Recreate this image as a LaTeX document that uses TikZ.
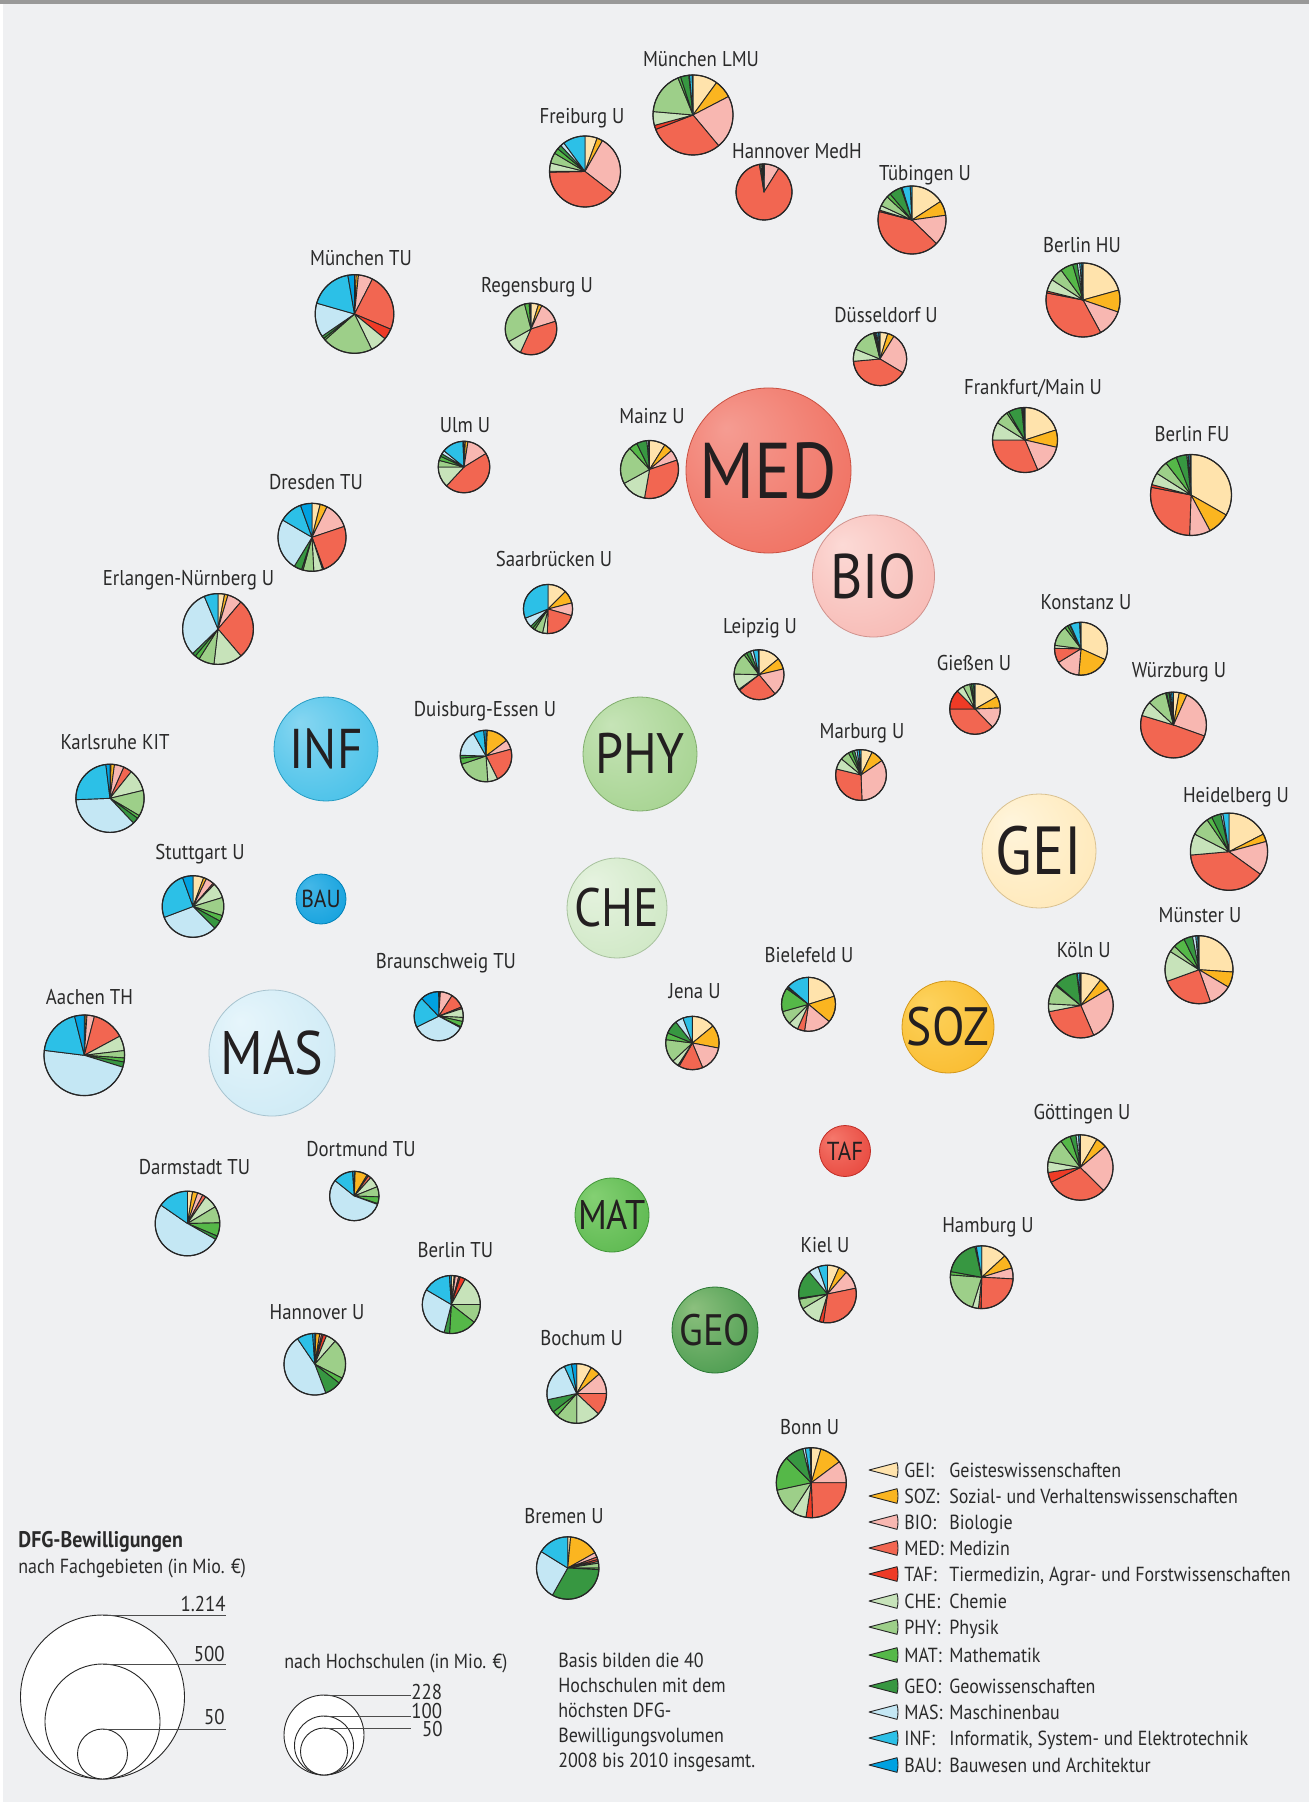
\documentclass[tikz,border=0pt]{standalone}
\usepackage{fontspec}
\setmainfont{PT Sans}[FakeStretch=0.88]
\definecolor{bg}{HTML}{EFF0F2}
\definecolor{txt}{HTML}{2A2A2A}
\definecolor{bubtxt}{HTML}{231F20}
\definecolor{c1}{HTML}{FFE3AC}
\definecolor{c2}{HTML}{FBB520}
\definecolor{c3}{HTML}{F8B7B1}
\definecolor{c4}{HTML}{F26651}
\definecolor{c5}{HTML}{EE3B26}
\definecolor{c6}{HTML}{C7E3BA}
\definecolor{c7}{HTML}{9DCF89}
\definecolor{c8}{HTML}{55B848}
\definecolor{c9}{HTML}{379741}
\definecolor{c10}{HTML}{C4E7F4}
\definecolor{c11}{HTML}{2CC0E7}
\definecolor{c12}{HTML}{00A1E1}
\definecolor{medin}{HTML}{F59C92}\definecolor{medout}{HTML}{EE5E4C}
\definecolor{bioin}{HTML}{FCDAD6}\definecolor{bioout}{HTML}{F5ACA6}
\definecolor{phyin}{HTML}{C6E4B7}\definecolor{phyout}{HTML}{98CC80}
\definecolor{infin}{HTML}{86D6F1}\definecolor{infout}{HTML}{2DB8E5}
\definecolor{chein}{HTML}{E6F3E0}\definecolor{cheout}{HTML}{C5E3B9}
\definecolor{bauin}{HTML}{45B8E8}\definecolor{bauout}{HTML}{0098D9}
\definecolor{geiin}{HTML}{FFF5DC}\definecolor{geiout}{HTML}{FFE3A9}
\definecolor{sozin}{HTML}{FDD35E}\definecolor{sozout}{HTML}{F8B21C}
\definecolor{masin}{HTML}{E6F5FB}\definecolor{masout}{HTML}{C4E6F3}
\definecolor{tafin}{HTML}{F5786C}\definecolor{tafout}{HTML}{E2342B}
\definecolor{matin}{HTML}{84D073}\definecolor{matout}{HTML}{4DAF42}
\definecolor{geoin}{HTML}{8CC07E}\definecolor{geoout}{HTML}{2F8C3B}
\colorlet{bubin}{white}\colorlet{bubout}{gray}
\pgfdeclareradialshading[bubin,bubout]{bubble}{\pgfpoint{-13bp}{13bp}}{color(0bp)=(bubin); color(30bp)=(bubin!40!bubout); color(50bp)=(bubout)}
\tikzset{
  lab/.style={font=\fontsize{10.7}{12}\selectfont, text=txt, inner sep=0pt, anchor=mid, yshift=-1.2pt},
  leg/.style={font=\fontsize{10.2}{12}\selectfont, text=txt, inner sep=0pt, anchor=mid west, yshift=-1.2pt},
  bubtext/.style={text=bubtxt, inner sep=0pt, anchor=base},
  pieline/.style={draw=black!85, line width=0.45pt, line join=round},
  wedge/.style={draw=black!85, line width=0.45pt, line join=round},
  legcirc/.style={draw=black!85, fill=white, line width=0.45pt},
  legline/.style={draw=black!70, line width=0.5pt},
}
\newcommand\drawpie[4]{%
  \coordinate (#1) at (#2);
  \gdef\ptot{0}%
  \foreach \v in {#4}{\pgfmathsetmacro\ptt{\ptot+\v}\xdef\ptot{\ptt}}%
  \gdef\pcum{0}%
  \foreach \v [count=\i] in {#4}{%
    \pgfmathsetmacro\pw{(\v/\ptot)*360}%
    \ifdim\pw pt>0.05pt
      \pgfmathsetmacro\pa{-90+\pcum}%
      \pgfmathsetmacro\pb{-90+\pcum+\pw}%
      \filldraw[pieline, fill=c\i] (#1) -- ++(\pa:#3) arc[start angle=\pa, end angle=\pb, radius=#3] -- cycle;
    \fi
    \pgfmathsetmacro\pn{\pcum+\pw}%
    \xdef\pcum{\pn}%
  }%
  \draw[draw=black!85, line width=0.6pt] (#1) circle[radius=#3];
}
\newcommand\bubble[7]{%
  \begin{scope}
    \colorlet{bubin}{#4}\colorlet{bubout}{#5}
    \shade[shading=bubble, draw=#5!85!black, line width=0.4pt] (#2) circle[radius=#3];
  \end{scope}
  \node[bubtext, font=\fontsize{#7}{#7}\selectfont, yshift={-0.35*#7pt}] (#1) at (#2) {#6};
}
\begin{document}
\begin{tikzpicture}[x=0.5pt,y=-0.5pt]
\path[use as bounding box] (0,0) rectangle (1309,1802);
\fill[bg] (0,0) rectangle (1309,1802);
\fill[white] (0,0) rectangle (3,1802);
\fill[black!40] (0,0) rectangle (1309,4);

% ---------- bubbles ----------
\bubble{med}{768.5,470.5}{82.5}{medin}{medout}{MED}{39.5}
\bubble{bio}{873.5,576}{61}{bioin}{bioout}{BIO}{31.5}
\bubble{phy}{640,754}{57}{phyin}{phyout}{PHY}{28.5}
\bubble{inf}{326,749}{52}{infin}{infout}{INF}{28}
\bubble{che}{617,908}{50}{chein}{cheout}{CHE}{27}
\bubble{bau}{321,899}{25}{bauin}{bauout}{BAU}{12.3}
\bubble{gei}{1039,851}{57}{geiin}{geiout}{GEI}{34}
\bubble{soz}{948,1027}{46}{sozin}{sozout}{SOZ}{27}
\bubble{mas}{272,1053}{63}{masin}{masout}{MAS}{30.7}
\bubble{taf}{845,1151}{25.5}{tafin}{tafout}{TAF}{13}
\bubble{mat}{612,1215}{37}{matin}{matout}{MAT}{20.7}
\bubble{geo}{715,1330}{43}{geoin}{geoout}{GEO}{22}

% ---------- pies ----------
\drawpie{p1}{693,115}{40}{36,26.5,77.5,108.7,6,20,63,4,12,1,4,1}
\drawpie{p2}{585,171.5}{35.5}{20,9.5,98,141,1.5,13.5,17,9,7,6.5,36.5,0}
\drawpie{p3}{764,192}{28}{0.5,0.5,31,318,0,3,3,0,2,0,1.5,0}
\drawpie{p4}{912,220}{34}{57,25,52,150.5,2.5,8,18,7,21,2,14,3}
\drawpie{p5}{1083,300}{37}{74.4,34.6,42.6,129.4,3,19.2,20.6,20,7.2,4,3,2}
\drawpie{p6}{880,359}{26.7}{17,14.5,89.5,144,0,27,54,2,2,3,4,3}
\drawpie{p7}{1025,440}{32.5}{72,31,54,113,0,32,24,4,24,2,2,2}
\drawpie{p8}{1191,495}{40.5}{119.6,32.4,30,99,4,17.5,19.5,16.7,15.3,2,2.5,1.5}
\drawpie{p9}{354.5,314}{39.3}{2.4,3.4,21.4,85.6,16.4,24.8,74.6,3,4,50.4,64.2,9.8}
\drawpie{p10}{531,329}{25.8}{17,8,47.5,132,0,36,105,10.5,2,0,0,2}
\drawpie{p11}{464,467}{25.8}{3,6,49.5,164.3,0,47.2,15,9.6,6.4,8,48.7,2.3}
\drawpie{p12}{649.5,469.5}{29}{32,17.3,21.8,118.9,0,51.3,75.7,17,20.8,3.2,2,0}
\drawpie{p13}{312,537.3}{34}{14,12.3,45.1,88.4,2.2,15,18.4,2.6,13.5,89,39.8,19.7}
\drawpie{p14}{218,629}{35.4}{10.8,5.6,23.8,99.4,0,47,25.7,7.8,5.8,111.3,22.8,0}
\drawpie{p15}{548,609}{24.6}{45,30.6,30.1,75.8,0,11.5,19.9,5.6,6.5,23,112,0}
\drawpie{p16}{759,674.7}{25}{50.7,26,63.5,91.4,2.4,37.6,51.8,6.6,9.8,7,11.8,1.4}
\drawpie{p17}{1081,648.7}{26.5}{114.3,70.7,53.7,32,0,6.7,45.4,6.8,5.1,1.3,21,3}
\drawpie{p18}{975,709}{25.3}{60.3,27.3,48.4,134,45.6,16.8,15.6,4,5,0,3,0}
\drawpie{p19}{1173.5,725}{32.9}{10,14,85.6,177.2,0,26.1,33.4,1.7,4,2,3,3}
\drawpie{p20}{861,775}{25.4}{26,29.5,122.4,106,0,25.8,20.8,8.6,6.5,5.4,5.2,4}
\drawpie{p21}{110,798.3}{34.1}{1.7,5.9,16.4,14.7,0,37.8,44.1,5.3,10.7,131.1,85.3,7}
\drawpie{p22}{486,756}{25.8}{3,49.8,21.9,78.7,0,22.6,75.3,14,6.3,59.1,24.3,5}
\drawpie{p23}{1229,851.7}{38.6}{62.8,11.8,51.2,139.2,0,32.2,28.3,8,14.3,3,9.2,0}
\drawpie{p24}{193,906.5}{30.8}{20.3,5.5,15.1,3.1,0,29,34.3,11.2,16.5,114.3,90.9,19.8}
\drawpie{p25}{1199,969.7}{34}{93.9,26.8,39.7,89.6,0,52.4,11.4,20.1,15.1,5.6,3.4,2}
\drawpie{p26}{1080.8,1005.5}{32.4}{37.8,21.6,97.2,102.4,0,14,35.6,2.4,41.8,1.2,4,2}
\drawpie{p27}{438.7,1016.2}{24.6}{2,2,29,35,4,21,9.5,13,2.5,125.8,72.4,43.8}
\drawpie{p28}{808.5,1004.3}{27}{72.6,57.4,58.5,15.5,0,21,29.3,51.5,3.2,2,49,0}
\drawpie{p29}{692.4,1043}{26.7}{50.4,50.6,56.4,52.4,3.2,14.2,50.1,14.7,29.7,17.5,20.8,0}
\drawpie{p30}{84.3,1055.3}{40.3}{1.4,2.4,10.8,47.1,0,21.5,10.6,5.8,7.6,169.9,68.9,14}
\drawpie{p31}{1080.3,1167.5}{32.7}{30.5,19.2,84.9,108.6,18.1,18.8,43.6,18.3,10.4,4.6,3,0}
\drawpie{p32}{187.5,1223.5}{32.3}{9.1,9.3,9.8,6.3,0,24.4,29.9,24.1,6.6,185.2,55.3,0}
\drawpie{p33}{354.3,1196}{24.7}{2,29.5,3.5,7,0,26,24,16,2,198.7,47.3,4}
\drawpie{p34}{981.7,1277.2}{31.4}{47.3,25.6,20.2,88.1,4.8,11.3,77,6.1,67.1,2.5,10,0}
\drawpie{p35}{827.5,1294}{28.8}{23.4,17.5,37.5,109.9,8.4,42.5,20.4,2.4,58.4,20.8,18.8,0}
\drawpie{p36}{451.3,1304.5}{29}{5.9,2.1,7,3,10.8,61.2,37.8,55.7,11,106,55.9,3.6}
\drawpie{p37}{314.8,1364.2}{30.8}{2,7.3,3.7,3,6.4,19.1,75.5,10.8,31.4,166.6,30.2,4}
\drawpie{p38}{576.7,1393.5}{29.8}{29.6,19.6,40.8,43.3,0,46.7,41.2,10.8,26,77.5,14.5,10}
\drawpie{p39}{811.3,1482.7}{35}{16,37.2,36.8,88,10.9,24,44.9,57.2,31,4,8,2}
\drawpie{p40}{567.7,1568}{31.2}{5.4,55.3,8.8,4.7,3.8,3,9,3,116.4,92.4,58.2,0}

% ---------- labels ----------
\node[lab] (l1) at (701,59) {München LMU};
\node[lab] (l2) at (582,116) {Freiburg U};
\node[lab] (l3) at (797,151) {Hannover MedH};
\node[lab] (l4) at (925,173) {Tübingen U};
\node[lab] (l5) at (1082,245) {Berlin HU};
\node[lab] (l6) at (886,315) {Düsseldorf U};
\node[lab] (l7) at (1033,387) {Frankfurt/Main U};
\node[lab] (l8) at (1192,434) {Berlin FU};
\node[lab] (l9) at (361,258) {München TU};
\node[lab] (l10) at (537,285) {Regensburg U};
\node[lab] (l11) at (465,425) {Ulm U};
\node[lab] (l12) at (652,416) {Mainz U};
\node[lab] (l13) at (316,482) {Dresden TU};
\node[lab] (l14) at (188.5,578) {Erlangen-Nürnberg U};
\node[lab] (l15) at (554,559) {Saarbrücken U};
\node[lab] (l16) at (760,626) {Leipzig U};
\node[lab] (l17) at (1086,602) {Konstanz U};
\node[lab] (l18) at (974,663) {Gießen U};
\node[lab] (l19) at (1179,670) {Würzburg U};
\node[lab] (l20) at (862,731) {Marburg U};
\node[lab] (l21) at (115,742) {Karlsruhe KIT};
\node[lab] (l22) at (485,709) {Duisburg-Essen U};
\node[lab] (l23) at (1236,795) {Heidelberg U};
\node[lab] (l24) at (200,852) {Stuttgart U};
\node[lab] (l25) at (1200,915) {Münster U};
\node[lab] (l26) at (1083.7,950) {Köln U};
\node[lab] (l27) at (446,961) {Braunschweig TU};
\node[lab] (l28) at (809,955) {Bielefeld U};
\node[lab] (l29) at (694.6,991) {Jena U};
\node[lab] (l30) at (89.5,997) {Aachen TH};
\node[lab] (l31) at (1082,1112) {Göttingen U};
\node[lab] (l32) at (194.5,1167) {Darmstadt TU};
\node[lab] (l33) at (361,1149) {Dortmund TU};
\node[lab] (l34) at (988,1225) {Hamburg U};
\node[lab] (l35) at (825,1245) {Kiel U};
\node[lab] (l36) at (455.4,1250) {Berlin TU};
\node[lab] (l37) at (317,1312) {Hannover U};
\node[lab] (l38) at (581.6,1338) {Bochum U};
\node[lab] (l39) at (809.7,1427) {Bonn U};
\node[lab] (l40) at (564,1516) {Bremen U};

% ---------- legend: subjects ----------
\foreach \y/\k/\ab/\de in {
  1470/1/GEI:/Geisteswissenschaften,
  1496/2/SOZ:/Sozial- und Verhaltenswissenschaften,
  1522/3/BIO:/Biologie,
  1548/4/MED:/Medizin,
  1574/5/TAF:/{Tiermedizin, Agrar- und Forstwissenschaften},
  1601/6/CHE:/Chemie,
  1627/7/PHY:/Physik,
  1655/8/MAT:/Mathematik,
  1686/9/GEO:/Geowissenschaften,
  1712/10/MAS:/Maschinenbau,
  1738/11/INF:/{Informatik, System- und Elektrotechnik},
  1765/12/BAU:/Bauwesen und Architektur}{
  \coordinate (w\k) at (869,\y);
  \filldraw[wedge, fill=c\k] (w\k) -- ++(-14.6:29) arc[start angle=-14.6, end angle=14.6, radius=29] -- cycle;
  \node[leg] (a\k) at (904,\y) {\ab};
  \node[leg] (d\k) at (949,\y) {\de};
}

% ---------- legend: sizes ----------
\node[font=\fontsize{11.3}{13}\selectfont\bfseries, text=txt, inner sep=0pt, anchor=mid west, yshift=-1.2pt] (t1) at (18,1540) {DFG-Bewilligungen};
\node[leg] (t2) at (18,1566) {nach Fachgebieten (in Mio. €)};
\coordinate (k1) at (102.5,1697);
\coordinate (k2) at (102.5,1721.5);
\coordinate (k3) at (102.5,1754);
\draw[legcirc] (k1) circle[radius=82];
\draw[legcirc] (k2) circle[radius=57.5];
\draw[legcirc] (k3) circle[radius=25];
\coordinate (k1e) at (226,1615);
\coordinate (k2e) at (226,1664);
\coordinate (k3e) at (226,1729);
\draw[legline] (102.5,1615) -- (k1e);
\draw[legline] (102.5,1664) -- (k2e);
\draw[legline] (102.5,1729) -- (k3e);
\node[lab, anchor=mid east] (n1) at (226,1604) {1.214};
\node[lab, anchor=mid east] (n2) at (225,1654) {500};
\node[lab, anchor=mid east] (n3) at (225,1717) {50};

\node[leg] (t3) at (284,1661) {nach Hochschulen (in Mio. €)};
\coordinate (h1) at (324,1735);
\coordinate (h2) at (324,1745.5);
\coordinate (h3) at (324,1751.5);
\draw[legcirc] (h1) circle[radius=40];
\draw[legcirc] (h2) circle[radius=29.5];
\draw[legcirc] (h3) circle[radius=23.5];
\coordinate (h1e) at (411,1695);
\coordinate (h2e) at (411,1716);
\coordinate (h3e) at (411,1728);
\draw[legline] (324,1695) -- (h1e);
\draw[legline] (324,1716) -- (h2e);
\draw[legline] (324,1728) -- (h3e);
\node[lab, anchor=mid west] (m1) at (411,1692) {228};
\node[lab, anchor=mid west] (m2) at (411,1711) {100};
\node[lab, anchor=mid east] (m3) at (443,1729) {50};

\node[leg] (b1) at (558,1660) {Basis bilden die 40};
\node[leg] (b2) at (558,1685) {Hochschulen mit dem};
\node[leg] (b3) at (558,1710) {höchsten DFG-};
\node[leg] (b4) at (558,1735) {Bewilligungsvolumen};
\node[leg] (b5) at (558,1760) {2008 bis 2010 insgesamt.};
\end{tikzpicture}
\end{document}
